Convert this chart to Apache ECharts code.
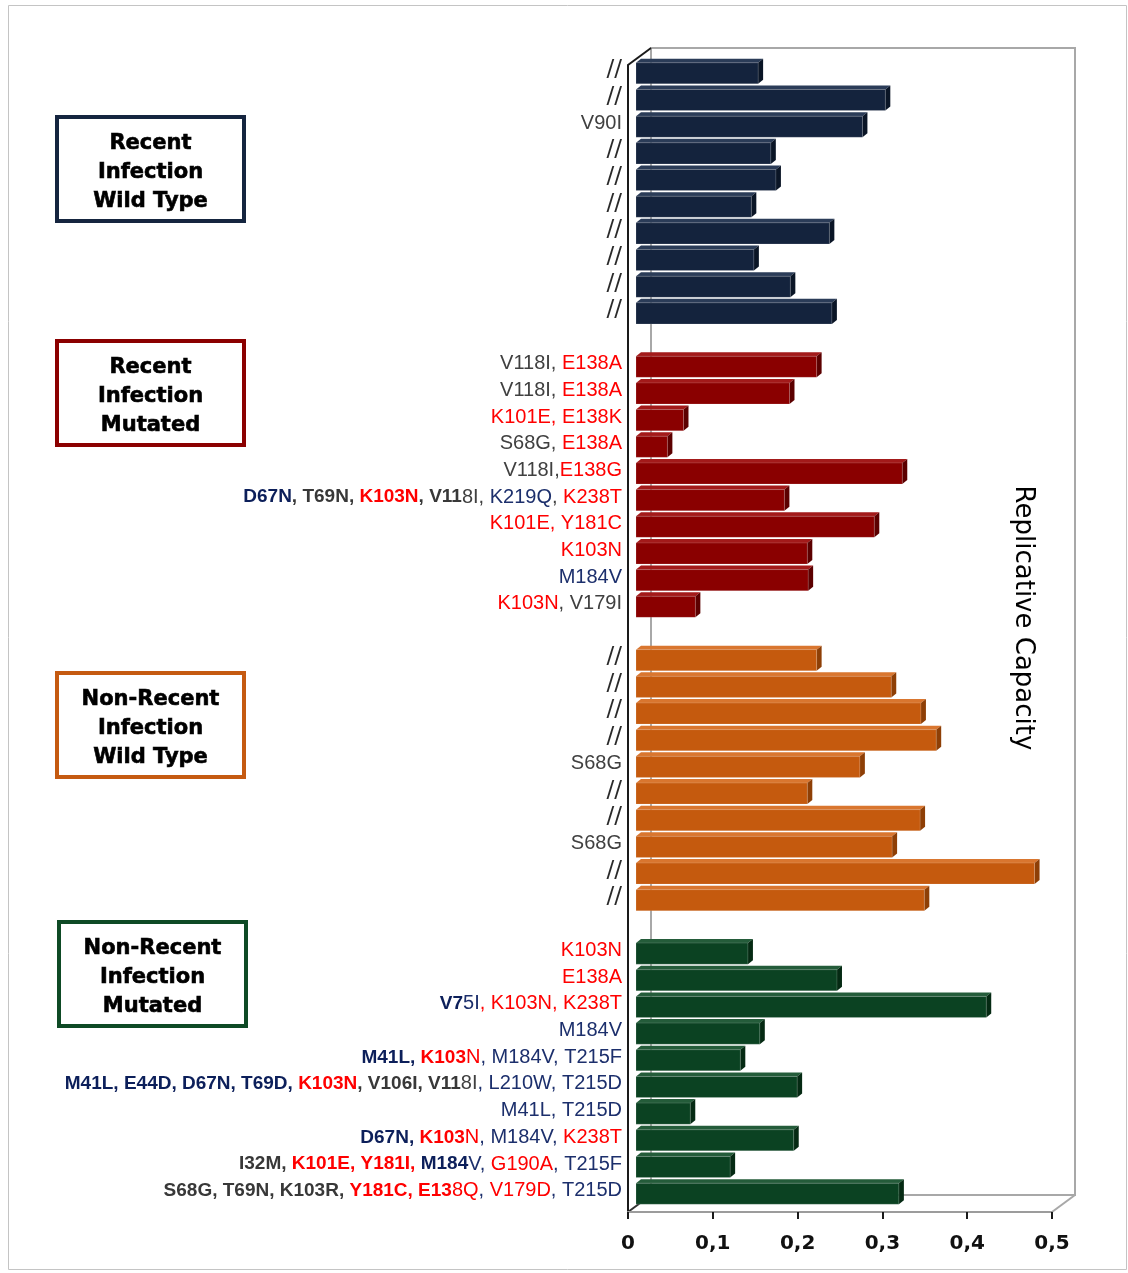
<!DOCTYPE html>
<html>
<head>
<meta charset="utf-8">
<title>Replicative Capacity</title>
<script src="https://cdn.jsdelivr.net/npm/echarts/dist/echarts.min.js"></script>
<style>
  html, body { margin: 0; padding: 0; background: #ffffff; }
  #chart { width: 1128px; height: 1273px; }
</style>
</head>
<body>
<div id="chart"></div>
<script>
// ---- data -------------------------------------------------------------
// Mutation labels use rich-text markup: g grey, r red, b blue,
// K/R/B are the heavy (bold condensed) grey/red/blue variants.
const recentWildTypeLabels = ['//', '//', '{g|V90I}', '//', '//', '//', '//', '//', '//', '//'];
const recentWildTypeValues = [0.144, 0.294, 0.267, 0.159, 0.165, 0.136, 0.228, 0.139, 0.182, 0.231];

const recentMutatedLabels = [
  '{g|V118I, }{r|E138A}',
  '{g|V118I, }{r|E138A}',
  '{r|K101E, E138K}',
  '{g|S68G, }{r|E138A}',
  '{g|V118I,}{r|E138G}',
  '{B|D67N}{K|, T69N, }{R|K103N}{K|, V11}{g|8I, }{b|K219Q}{g|, }{r|K238T}',
  '{r|K101E, Y181C}',
  '{r|K103N}',
  '{b|M184V}',
  '{r|K103N}{g|, V179I}'
];
const recentMutatedValues = [0.213, 0.181, 0.056, 0.037, 0.314, 0.175, 0.281, 0.202, 0.203, 0.070];

const nonRecentWildTypeLabels = ['//', '//', '//', '//', '{g|S68G}', '//', '//', '{g|S68G}', '//', '//'];
const nonRecentWildTypeValues = [0.213, 0.301, 0.336, 0.354, 0.264, 0.202, 0.335, 0.302, 0.470, 0.340];

const nonRecentMutatedLabels = [
  '{r|K103N}',
  '{r|E138A}',
  '{B|V7}{b|5I}{r|, K103N, K238T}',
  '{b|M184V}',
  '{B|M41L, }{R|K103}{r|N}{b|, M184V, T215F}',
  '{B|M41L, E44D, D67N, T69D, }{R|K103N}{K|, V106I, V11}{g|8I}{b|, L210W, T215D}',
  '{b|M41L, T215D}',
  '{B|D67N, }{R|K103}{r|N}{b|, M184V, }{r|K238T}',
  '{K|I32M, }{R|K101E, Y181I, }{B|M184}{b|V, }{r|G190A}{b|, T215F}',
  '{K|S68G, T69N, K103R, }{R|Y181C, E13}{r|8Q}{b|, }{r|V179D}{b|, T215D}'
];
const nonRecentMutatedValues = [0.132, 0.237, 0.413, 0.146, 0.123, 0.190, 0.064, 0.186, 0.111, 0.310];

const groupTitles = [
  'Recent\nInfection\nWild Type',
  'Recent\nInfection\nMutated',
  'Non-Recent\nInfection\nWild Type',
  'Non-Recent\nInfection\nMutated'
];
const capacityTicks = ['0', '0,1', '0,2', '0,3', '0,4', '0,5'];
const axisTitle = 'Replicative Capacity';

// ---- styling ----------------------------------------------------------
const palettes = [
  { front: '#14233d', top: '#2b3c58', side: '#0a1526', frame: '#15253f' },
  { front: '#8a0000', top: '#a31a1a', side: '#5c0000', frame: '#8b0000' },
  { front: '#c55a0e', top: '#d9762f', side: '#8e3f06', frame: '#c55a11' },
  { front: '#0b4222', top: '#245c3a', side: '#052a13', frame: '#0e4a25' }
];
const boxTops = [115, 339, 671, 920];
const boxLefts = [55, 55, 55, 57];

// plot geometry: front plane, depth offset of the back wall, and bar plane
const FRONT = { left: 628, top: 65, width: 424, height: 1147 };
const DEPTH = { x: 23, y: 17 };
const BAR = { left: 636, top: 58, width: 424, height: 1147 };

// ---- rows -------------------------------------------------------------
const groupLabels = [recentWildTypeLabels, recentMutatedLabels, nonRecentWildTypeLabels, nonRecentMutatedLabels];
const groupValues = [recentWildTypeValues, recentMutatedValues, nonRecentWildTypeValues, nonRecentMutatedValues];

const rowLabels = [];
const groupData = [];
groupLabels.forEach(function (labels, gi) {
  if (gi > 0) rowLabels.push('');
  const start = rowLabels.length;
  labels.forEach(function (l) { rowLabels.push(l); });
  groupData.push(groupValues[gi].map(function (v, i) { return [v, start + i]; }));
});

// 3D-looking horizontal bar: front face, top face and right side face
function bar3d(p) {
  return function (params, api) {
    const v = api.value(0), row = api.value(1);
    const a = api.coord([0, row]);
    const b = api.coord([v, row]);
    const band = api.size([0, 1])[1];
    const dx = 5, dy = 4;
    const total = band * 0.94;
    const top = a[1] - total / 2;
    const fy0 = top + dy, fy1 = a[1] + total / 2;
    const x0 = a[0], x1 = b[0];
    return {
      type: 'group',
      children: [
        { type: 'polygon', shape: { points: [[x0, fy0], [x0 + dx, top], [x1 + dx, top], [x1, fy0]] },
          style: { fill: p.top } },
        { type: 'polygon', shape: { points: [[x1, fy0], [x1 + dx, top], [x1 + dx, fy1 - dy], [x1, fy1]] },
          style: { fill: p.side } },
        { type: 'rect', shape: { x: x0, y: fy0, width: x1 - x0, height: fy1 - fy0 },
          style: { fill: p.front, stroke: 'rgba(255,255,255,0.25)', lineWidth: 0.6 } }
      ]
    };
  };
}

const REG = '"Liberation Sans", Arial, sans-serif';
const HEAVY = '"Liberation Sans Narrow", "Liberation Sans", Arial, sans-serif';
function tok(color, heavy) {
  return { color: color, fontSize: heavy ? 19 : 20, fontFamily: heavy ? HEAVY : REG,
           fontWeight: heavy ? 'bold' : 'normal', fontStyle: 'normal' };
}

const graphics = [
  { type: 'rect', shape: { x: 8.5, y: 5.5, width: 1118, height: 1264 },
    style: { fill: 'none', stroke: '#c4c4c4', lineWidth: 1 }, z: -10 },
  // depth connectors of the 3D frame
  { type: 'line', shape: { x1: FRONT.left, y1: FRONT.top, x2: FRONT.left + DEPTH.x, y2: FRONT.top - DEPTH.y },
    style: { stroke: '#1a1a1a', lineWidth: 2 } },
  { type: 'line', shape: { x1: FRONT.left, y1: FRONT.top + FRONT.height, x2: FRONT.left + DEPTH.x, y2: FRONT.top + FRONT.height - DEPTH.y },
    style: { stroke: '#333', lineWidth: 2 } },
  { type: 'line', shape: { x1: FRONT.left + FRONT.width, y1: FRONT.top + FRONT.height, x2: FRONT.left + FRONT.width + DEPTH.x, y2: FRONT.top + FRONT.height - DEPTH.y },
    style: { stroke: '#a8a8a8', lineWidth: 2 } },
  { type: 'text', x: 1023, y: 618, rotation: -Math.PI / 2,
    style: { text: axisTitle, font: '26px "DejaVu Sans", sans-serif', fill: '#000', align: 'center', verticalAlign: 'middle' } }
];
groupTitles.forEach(function (t, i) {
  const x = boxLefts[i] + 2, y = boxTops[i] + 2, w = 187, h = 104;
  graphics.push({ type: 'rect', shape: { x: x, y: y, width: w, height: h },
    style: { fill: '#fff', stroke: palettes[i].frame, lineWidth: 4 } });
  graphics.push({ type: 'text', x: x + w / 2, y: y + h / 2 + 4,
    style: { text: t, font: 'bold 21px "DejaVu Sans", sans-serif', lineHeight: 29, fill: '#000',
             stroke: '#000', lineWidth: 0.6, align: 'center', verticalAlign: 'middle' } });
});

const option = {
  backgroundColor: '#ffffff',
  animation: false,
  grid: [
    { left: BAR.left, top: BAR.top, width: BAR.width, height: BAR.height, containLabel: false },
    { left: FRONT.left, top: FRONT.top, width: FRONT.width, height: FRONT.height },
    { left: FRONT.left + DEPTH.x, top: FRONT.top - DEPTH.y, width: FRONT.width, height: FRONT.height,
      show: true, borderColor: '#a8a8a8', borderWidth: 2, backgroundColor: 'transparent', z: -1 }
  ],
  xAxis: [
    { gridIndex: 0, type: 'value', min: 0, max: 0.5, show: false },
    { gridIndex: 1, type: 'value', min: 0, max: 0.5, interval: 0.1,
      axisLine: { show: true, onZero: false, lineStyle: { color: '#9c9c9c', width: 2 } },
      axisTick: { show: true, length: 7, lineStyle: { color: '#1a1a1a', width: 2 } },
      splitLine: { show: false },
      axisLabel: { margin: 22, fontSize: 20, fontWeight: 'bold', color: '#111', fontFamily: '"DejaVu Sans", sans-serif',
                   formatter: function (v, i) { return capacityTicks[i]; } } },
    { gridIndex: 2, type: 'value', min: 0, max: 0.5, show: false }
  ],
  yAxis: [
    { gridIndex: 0, type: 'category', inverse: true, data: rowLabels,
      axisLine: { show: false }, axisTick: { show: false }, splitLine: { show: false },
      axisLabel: { interval: 0, margin: 14, padding: [0, 0, 2, 0], fontSize: 23,
        fontFamily: '"DejaVu Sans", sans-serif', color: '#2a2a2a',
        rich: {
          g: tok('#404040', false), r: tok('#ff0000', false), b: tok('#1c2f6c', false),
          K: tok('#383838', true), R: tok('#ff0000', true), B: tok('#0c1f5a', true)
        } } },
    { gridIndex: 1, type: 'value', min: 0, max: 1,
      axisLine: { show: true, onZero: false, lineStyle: { color: '#1a1a1a', width: 2 } },
      axisTick: { show: false }, axisLabel: { show: false }, splitLine: { show: false } },
    { gridIndex: 2, type: 'value', min: 0, max: 1, show: false, splitLine: { show: false } }
  ],
  series: groupData.map(function (d, i) {
    return { type: 'custom', xAxisIndex: 0, yAxisIndex: 0, renderItem: bar3d(palettes[i]),
             encode: { x: 0, y: 1 }, data: d, z: 3 };
  }),
  graphic: graphics
};

const chart = echarts.init(document.getElementById('chart'), null, { renderer: 'canvas' });
chart.setOption(option);
</script>
</body>
</html>
